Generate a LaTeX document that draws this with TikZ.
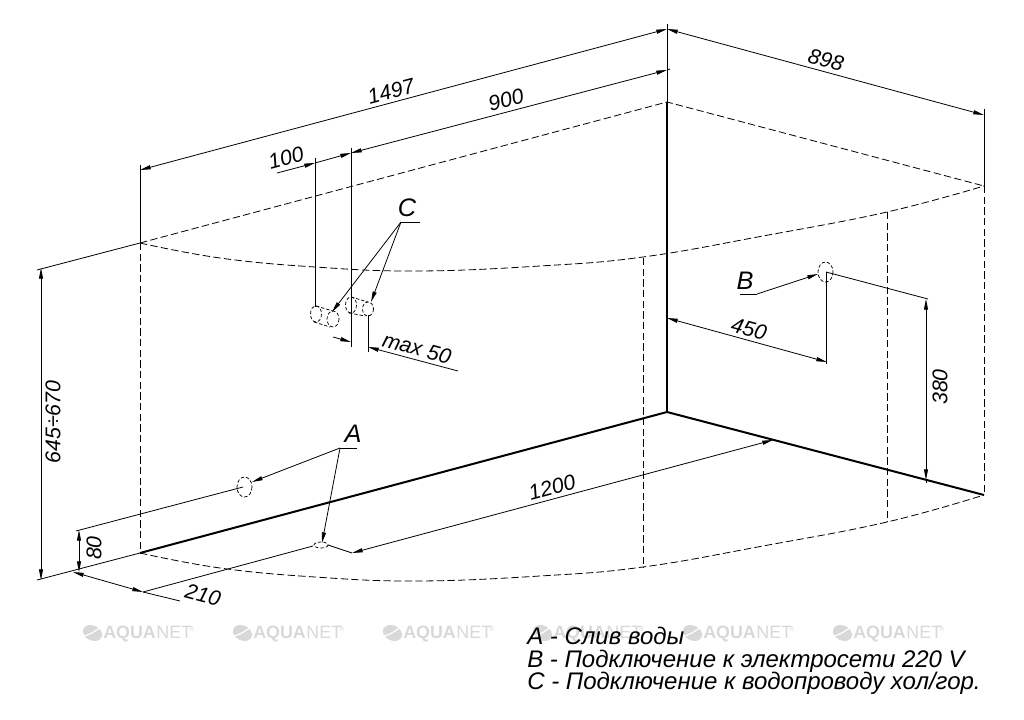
\documentclass[tikz,border=0pt]{standalone}
\usepackage{fontspec}
\setmainfont{Liberation Sans}
\usetikzlibrary{arrows.meta}

\begin{document}
\begin{tikzpicture}[
  x=0.75pt, y=-0.75pt,
  >={Stealth[length=8pt,width=3pt,inset=0pt]},
  thinline/.style={line width=0.6pt},
  wallline/.style={line width=1.5pt},
  hiddenline/.style={line width=0.6pt, dash pattern=on 5.5pt off 2.5pt},
  portline/.style={line width=0.55pt, dash pattern=on 2.5pt off 1.5pt},
  dimtext/.style={font=\fontsize{16}{16}\selectfont\itshape, inner sep=0pt},
  lettertext/.style={font=\fontsize{19}{19}\selectfont\itshape, inner sep=0pt},
  legendtext/.style={font=\fontsize{18}{18}\selectfont\itshape, anchor=base west, inner sep=0pt},
]
\definecolor{wmgray}{RGB}{216,216,216}
\useasboundingbox (0,0) rectangle (1024,720);

\foreach \wx in {83,233,383,533,683,833} {
\begin{scope}[shift={(\wx,0)}]
\fill [wmgray, rotate around={-25:(9.5,633)}] (9.5,633) ellipse [x radius=10, y radius=7.5];
\draw [white, line width=0.9pt] (1,636) .. controls (7,635) and (12,631) .. (18,627);
\node (aqua\wx) [wmgray, anchor=base west, inner sep=0pt, font=\fontsize{13.4}{13}\selectfont\bfseries] at (20,638) {AQUA};
\node (net\wx) [wmgray, anchor=base west, inner sep=0pt, font=\fontsize{13.4}{13}\selectfont] at (aqua\wx.base east) {NET};
\node (reg\wx) [wmgray, anchor=base west, inner sep=0pt, font=\fontsize{5}{5}\selectfont] at (106,631) {®};
\end{scope}
}

\coordinate (topback) at (667,102);
\coordinate (topleft) at (140,243);
\coordinate (topright) at (984,186);
\coordinate (floorback) at (667,412);
\coordinate (floorleft) at (140,553);
\coordinate (floorright) at (984,495);

\draw [hiddenline] (topleft) -- (topback) -- (topright);
\draw [hiddenline] plot [smooth, tension=0.7] coordinates {(140,243) (220,258) (315,267) (417,271) (540,266) (643,257) (763,236) (887,212) (984,186)};
\begin{scope}[shift={(0,310)}]
\draw [hiddenline] plot [smooth, tension=0.7] coordinates {(140,243) (220,258) (315,267) (417,271) (540,266) (643,257) (763,236) (887,212) (984,185)};
\end{scope}

\draw [hiddenline] (topleft) -- (floorleft);
\draw [hiddenline] (643,258) -- (643,568);
\draw [hiddenline] (887,212) -- (887,522);
\draw [hiddenline] (topright) -- (floorright);

\draw [wallline] (topback) -- (floorback);
\draw [wallline] (floorleft) -- (floorback) -- (floorright);

\draw [thinline] (667,24) -- (topback);
\draw [thinline] (140,165) -- (topleft);
\draw [thinline] (984,109) -- (topright);
\draw [thinline] (37,270) -- (topleft);
\draw [thinline] (37,580) -- (floorleft);

\draw [thinline, <->] (140,170) -- (667,29);
\draw [thinline, <->] (667,29) -- (984,115);
\draw [thinline, <->] (351,153) -- (667,70);
\draw [thinline] (667,70) -- (670,69);
\draw [thinline, <-] (315,163) -- (277,173);
\draw [thinline, ->] (315,163) -- (351,153);
\draw [thinline] (315,158) -- (315,307);
\draw [thinline] (351,148) -- (351,347);
\draw [thinline] (368,315) -- (368,352);
\draw [thinline, ->] (333,337) -- (351,342);
\draw [thinline, <-] (368,347) -- (458,371);

\draw [portline] (316,314) ellipse [x radius=5.5, y radius=8];
\draw [portline] (333,319) ellipse [x radius=6, y radius=8];
\draw [portline] (351,305) ellipse [x radius=5.5, y radius=8];
\draw [portline] (368,309) ellipse [x radius=5.5, y radius=7];
\draw [portline] (316,306) -- (333,311);
\draw [portline] (314,322) -- (330,327);
\draw [portline] (351,297) -- (368,302);
\draw [portline] (349,313) -- (365,316);

\draw [thinline] (401,222) -- (420,222);
\draw [thinline, ->] (401,222) -- (332,312);
\draw [thinline, ->] (401,222) -- (371,302);

\draw [portline] (244.5,487) ellipse [x radius=7.5, y radius=10];
\draw [portline] (321,545) ellipse [x radius=7, y radius=3];
\draw [portline] (825.5,272) ellipse [x radius=7.5, y radius=10];

\draw [thinline] (340,448) -- (357,448);
\draw [thinline, ->] (340,448) -- (252,482);
\draw [thinline, ->] (340,448) -- (322,543);
\draw [thinline] (76,531) -- (243,487);
\draw [thinline] (143,592) -- (313,546);
\draw [thinline] (328,545) -- (352,553);
\draw [thinline, <->] (79,530) -- (79,572);
\draw [thinline] (180,601) -- (143,592);
\draw [thinline, <->] (143,592) -- (73,572);
\draw [thinline, <->] (352,553) -- (773,440);
\draw [thinline, <->] (41,268) -- (41,580);

\draw [thinline] (740,294) -- (757,294);
\draw [thinline, ->] (757,294) -- (818,274);
\draw [thinline] (826,272) -- (826,364);
\draw [thinline] (826,272) -- (928,299);
\draw [thinline, <->] (667,318) -- (827,362);
\draw [thinline, <->] (926,299) -- (926,480);
\draw [thinline] (926,480) -- (926,483);

\node (len) [dimtext, rotate=15] at (391,91) {1497};
\node (wall) [dimtext, rotate=15] at (506,100) {900};
\node (gap) [dimtext, rotate=15] at (286,158) {100};
\node (depth) [dimtext, rotate=-15] at (826,60) {898};
\node (socket) [dimtext, rotate=-15] at (749,329) {450};
\node (socketh) [dimtext, rotate=90] at (940,387) {380};
\node (pipes) [dimtext, rotate=-15] at (417,348) {max 50};
\node (height) [dimtext, rotate=90] at (53,422) {645÷670};
\node (drainh) [dimtext, rotate=90] at (94,548) {80};
\node (drainx) [dimtext, rotate=-15] at (203,595) {210};
\node (floor) [dimtext, rotate=15] at (552,487) {1200};

\node (tagA) [lettertext] at (353,434) {A};
\node (tagB) [lettertext] at (745,281) {B};
\node (tagC) [lettertext] at (407,208) {C};

\node (legA) [legendtext] at (527,644) {A - Слив воды};
\node (legB) [legendtext] at (527,667) {B - Подключение к электросети 220 V};
\node (legC) [legendtext] at (527,689) {C - Подключение к водопроводу хол/гор.};

\end{tikzpicture}
\end{document}
